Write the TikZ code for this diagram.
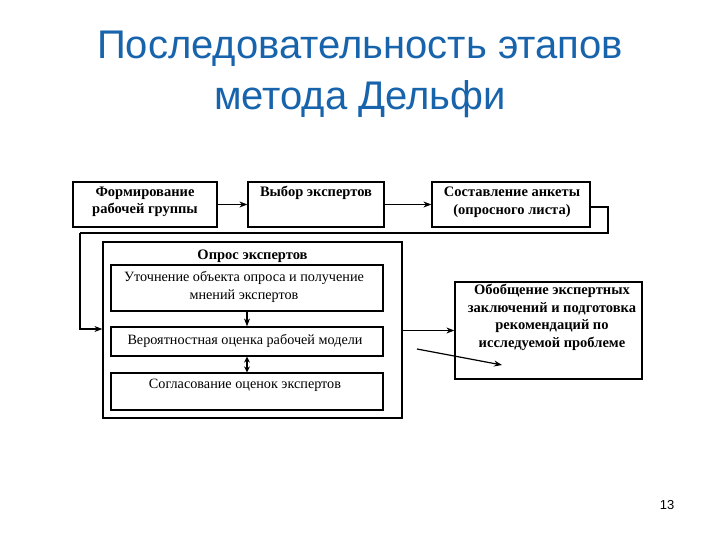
\documentclass[tikz,border=0pt]{standalone}
\usepackage{fontspec}
\setmainfont{Liberation Serif}
\newfontfamily\titlefont{Liberation Sans}
\usetikzlibrary{arrows.meta,calc}
\definecolor{titleblue}{RGB}{24,100,172}
\tikzset{
  box/.style={draw=black,line width=1.2pt,rectangle,inner sep=0pt,fill=white},
  txt/.style={align=center,inner sep=0pt,font=\fontsize{14.2}{18}\selectfont},
  btxt/.style={align=center,inner sep=0pt,font=\fontsize{14.5}{17.5}\selectfont\bfseries},
  arr/.style={line width=1.2pt,-{Stealth[length=8pt,width=6pt]}},
  ln/.style={line width=1.2pt}
}
\begin{document}
\begin{tikzpicture}[x=1pt,y=-1pt]
\useasboundingbox (0,0) rectangle (720,540);
% title
\node[font=\titlefont\fontsize{40}{51}\selectfont,text=titleblue,align=center] (title) at (360,74)
  {Последовательность этапов\\метода Дельфи};
% top row
\node[box,minimum width=144pt,minimum height=45pt] (b1) at (145,204.5) {};
\node[btxt] (t1) at (145,202) {Формирование\\рабочей группы};
\node[box,minimum width=136pt,minimum height=45pt] (b2) at (316,204.5) {};
\node[btxt] (t2) at (316,193) {Выбор экспертов};
\node[box,minimum width=158pt,minimum height=45pt] (b3) at (511,204.5) {};
\node[btxt] (t3) at (512,202) {Составление анкеты\\(опросного листа)};
\draw[arr] (b1.east) -- (b2.west);
\draw[arr] (b2.east) -- (b3.west);
% outer box
\node[box,minimum width=299pt,minimum height=176pt] (outer) at (252.5,330) {};
\node[btxt] (ot) at (252.5,256) {Опрос экспертов};
\node[box,minimum width=272pt,minimum height=46pt] (i1) at (247,288) {};
\node[txt] (it1) at (244,286.5) {Уточнение объекта опроса и получение\\мнений экспертов};
\node[box,minimum width=272pt,minimum height=29pt] (i2) at (247,341.5) {};
\node[txt] (it2) at (245,341) {Вероятностная оценка рабочей модели};
\node[box,minimum width=272pt,minimum height=37pt] (i3) at (247,391.5) {};
\node[txt] (it3) at (245,385) {Согласование оценок экспертов};
\draw[arr] (i1.south) -- (i2.north);
\draw[line width=1.2pt,{Stealth[length=6pt,width=6pt]}-{Stealth[length=6pt,width=6pt]}] (i2.south) -- (i3.north);
% loop connector
\coordinate (c1) at (608,207);
\coordinate (c2) at (80,233);
\coordinate (c3) at (80,329);
\draw[ln] ($(b3.east)+(0,2.5)$) -- (c1) |- (c2);
\draw[arr] (c2) -- (c3) -- (c3 -| outer.west);
% result box
\node[box,minimum width=187pt,minimum height=97pt] (b4) at (548.5,330.5) {};
\node[btxt] (t4) at (552,317.5) {Обобщение экспертных\\заключений и подготовка\\рекомендаций по\\исследуемой проблеме};
\draw[arr] (outer.east |- b4.west) -- (b4.west);
\coordinate (s1) at (417,349);
\coordinate (s2) at (502,365);
\draw[arr] (s1) -- (s2);
% page number
\node[font=\titlefont\fontsize{13}{15}\selectfont] (pn) at (667,505) {13};
\end{tikzpicture}
\end{document}
